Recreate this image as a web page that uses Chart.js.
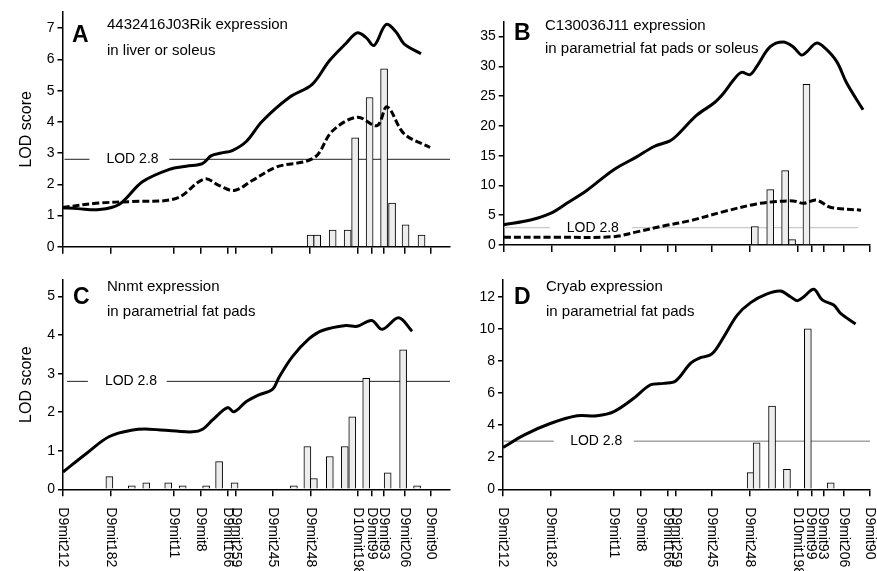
<!DOCTYPE html>
<html>
<head>
<meta charset="utf-8">
<script src="https://cdn.jsdelivr.net/npm/chart.js@4.4.0/dist/chart.umd.min.js"></script>
<style>
  body { margin: 0; background: #fff; }
  #wrap { position: relative; width: 877px; height: 571px; overflow: hidden; }
  canvas { position: absolute; }
</style>
</head>
<body>
<div id="wrap">
  <canvas id="chartA" width="455" height="262" style="left:0;top:0"></canvas>
  <canvas id="chartB" width="422" height="262" style="left:455px;top:0"></canvas>
  <canvas id="chartC" width="455" height="309" style="left:0;top:262px"></canvas>
  <canvas id="chartD" width="422" height="309" style="left:455px;top:262px"></canvas>
</div>
<script>
// markers along chromosome 9 (map position, cM)
const markers = ['D9mit212', 'D9mit182', 'D9mit11', 'D9mit8', 'D9mit166', 'D9mit259', 'D9mit245',
  'D9mit248', 'D10mit198', 'D9mit99', 'D9mit93', 'D9mit206', 'D9mit90'];
const markerPos = [0, 9.6, 22.3, 27.7, 33.1, 34.7, 42, 49.6, 59.2, 62, 64.4, 68.5, 73.7];

// A: 4432416J03Rik
const aSolid = [[0, 1.25], [3, 1.22], [7.4, 1.19], [11.4, 1.36], [16, 2.08], [21.4, 2.48], [24.8, 2.58],
  [28, 2.66], [29.8, 2.92], [31.8, 3.0], [34, 3.08], [36.8, 3.37], [40, 4.02], [45.4, 4.78], [50, 5.2],
  [53.4, 5.95], [56.8, 6.52], [59, 6.85], [60.8, 6.7], [62.4, 6.45], [64.8, 7.12], [66.8, 6.88],
  [68.4, 6.5], [71.8, 6.18]];
const aDashed = [[0, 1.26], [7.4, 1.4], [14, 1.45], [22.8, 1.55], [28.4, 2.17], [31.4, 1.96],
  [34.4, 1.8], [38, 2.12], [42.8, 2.55], [50.4, 2.85], [54, 3.7], [59, 4.15], [63, 3.88], [65, 4.48],
  [68.4, 3.62], [73.6, 3.18]];
const aBars = [[49.7, 0.37], [51, 0.37], [54.1, 0.53], [57.1, 0.53], [58.6, 3.49], [61.5, 4.78],
  [64.4, 5.7], [66, 1.4], [68.7, 0.7], [71.9, 0.37]];

// B: C130036J11
const bSolid = [[0, 3.4], [5.4, 4.2], [9.4, 5.3], [12.7, 7.0], [16.8, 9.2], [22.1, 12.6], [26.8, 14.8],
  [30.2, 16.5], [33.5, 17.5], [34.9, 18.4], [38.9, 21.8], [42.3, 23.8], [44.3, 25.5], [46.3, 27.7],
  [47.9, 29.0], [49.6, 28.6], [51, 30.0], [53.7, 33.3], [56.3, 34.1], [58.3, 33.3], [60, 31.9],
  [61, 32.4], [63, 33.9], [64.7, 33.1], [67.1, 30.8], [69.1, 27.2], [72.4, 22.7]];
const bDashed = [[0, 1.3], [10, 1.3], [22.1, 1.4], [26.8, 2.2], [32.2, 3.2], [37.6, 4.1], [44.3, 5.6],
  [50.9, 6.9], [54.3, 7.25], [58.3, 7.4], [60.4, 7.0], [63, 7.55], [65.8, 6.35], [72, 5.85]];
const bBars = [[50.6, 3.1], [53.7, 9.3], [56.7, 12.5], [58.1, 0.9], [61, 27]];

// C: Nnmt
const cSolid = [[0, 0.45], [4.7, 0.93], [9.3, 1.37], [14, 1.54], [17.3, 1.56], [22.7, 1.51], [26, 1.49],
  [28, 1.56], [30, 1.8], [33, 2.12], [34.3, 2.01], [36.7, 2.27], [39.3, 2.45], [42, 2.59], [43.3, 2.9],
  [46, 3.44], [49.3, 3.9], [52, 4.12], [56.7, 4.25], [59, 4.23], [61.9, 4.38], [64, 4.15], [67.3, 4.45],
  [70, 4.1]];
const cBars = [[9.3, 0.33], [13.8, 0.09], [16.7, 0.17], [21.1, 0.17], [24, 0.09], [28.7, 0.09],
  [31.3, 0.72], [34.4, 0.17], [46.3, 0.09], [49, 1.11], [50.3, 0.28], [53.5, 0.85], [56.5, 1.11],
  [58, 1.88], [60.8, 2.88], [65.1, 0.43], [68.2, 3.62], [71, 0.09]];

// D: Cryab
const dSolid = [[0, 2.6], [4.2, 3.38], [9.5, 4.1], [14.9, 4.58], [18.9, 4.58], [22.3, 4.84], [26.3, 5.67],
  [29.6, 6.5], [32.3, 6.6], [34.7, 6.75], [37.7, 7.85], [39.7, 8.2], [42, 8.43], [44.4, 9.5],
  [47.1, 10.85], [49.8, 11.63], [53.1, 12.17], [55.8, 12.35], [57.8, 12.0], [59.2, 11.75], [60.5, 12.0],
  [62.5, 12.46], [64.2, 11.8], [66.5, 11.48], [67.9, 10.96], [70.9, 10.3]];
const dBars = [[49.8, 1.04], [51, 2.9], [54.1, 5.19], [57.1, 1.25], [61.3, 10], [65.9, 0.41]];

// threshold line pieces (gap left for the label)
const lodA = [[0.4, 2.8], [5.4, 2.8], [13, null], [21.4, 2.8], [77.6, 2.8]];
const lodB = [[0, 2.9], [9.3, 2.9], [17, null], [25.8, 2.9], [71.4, 2.9]];
const lodC = [[0.8, 2.8], [5, 2.8], [13, null], [20.8, 2.8], [77.6, 2.8]];
const lodD = [[0, 3], [10.2, 3], [18, null], [26.3, 3], [73.8, 3]];

const yTicksA = [0, 1, 2, 3, 4, 5, 6, 7];
const yTicksB = [0, 5, 10, 15, 20, 25, 30, 35];
const yTicksC = [0, 1, 2, 3, 4, 5];
const yTicksD = [0, 2, 4, 6, 8, 10, 12];

const FONT = '"Liberation Sans", Arial, Helvetica, sans-serif';
Chart.defaults.font.family = FONT;
Chart.defaults.color = '#000';

const pts = arr => arr.map(p => ({ x: p[0], y: p[1] }));

const panelText = {
  id: 'panelText',
  afterDraw(chart, args, opts) {
    const ctx = chart.ctx;
    const { x, y } = chart.scales;
    ctx.save();
    ctx.fillStyle = '#000';
    ctx.font = 'bold 23px ' + FONT;
    ctx.textBaseline = 'alphabetic';
    ctx.fillText(opts.letter, opts.letterX, opts.letterY);
    ctx.font = '15px ' + FONT;
    ctx.fillText(opts.line1, opts.textX, opts.line1Y);
    ctx.fillText(opts.line2, opts.textX, opts.line2Y);
    // threshold label
    ctx.font = '14px ' + FONT;
    ctx.textBaseline = 'middle';
    ctx.fillText('LOD 2.8', x.getPixelForValue(opts.lodLabelX), y.getPixelForValue(opts.lodY));
    // marker names under the bottom panels
    if (opts.markerLabels) {
      ctx.font = '14px ' + FONT;
      ctx.textAlign = 'left';
      markers.forEach((m, i) => {
        const px = x.getPixelForValue(markerPos[i]);
        ctx.save();
        ctx.translate(px, x.top + 18);
        ctx.rotate(Math.PI / 2);
        ctx.fillText(m, 0, 0);
        ctx.restore();
      });
    }
    ctx.restore();
  }
};

function makePanel(id, cfg) {
  const datasets = [];
  datasets.push({
    type: 'line', data: pts(cfg.solid), borderColor: '#000', borderWidth: 3,
    pointRadius: 0, tension: 0.35, fill: false, order: 0
  });
  if (cfg.dashed) {
    datasets.push({
      type: 'line', data: pts(cfg.dashed), borderColor: '#000', borderWidth: 3, borderDash: [7, 3],
      pointRadius: 0, tension: 0.35, fill: false, order: 1
    });
  }
  datasets.push({
    type: 'bar', data: pts(cfg.bars), backgroundColor: '#ededed', borderColor: '#000',
    borderWidth: 1, barThickness: 7, order: 2
  });
  datasets.push({
    type: 'line', data: pts(cfg.lod), borderColor: cfg.lodColor, borderWidth: 1,
    pointRadius: 0, spanGaps: false, fill: false, order: 3
  });

  new Chart(document.getElementById(id), {
    type: 'bar',
    data: { datasets },
    options: {
      responsive: false,
      animation: false,
      events: [],
      layout: { padding: { top: cfg.padTop, right: cfg.padRight, left: 0, bottom: 0 } },
      plugins: {
        legend: { display: false },
        tooltip: { enabled: false },
        panelText: cfg.text
      },
      scales: {
        x: {
          type: 'linear', min: 0, max: cfg.xMax, offset: false,
          afterBuildTicks: s => { s.ticks = markerPos.map(v => ({ value: v })); },
          afterFit: s => { s.height = cfg.xHeight; },
          ticks: { display: false },
          grid: { drawOnChartArea: false, drawTicks: true, tickLength: 7, color: '#000', lineWidth: 1.5, offset: false },
          border: { color: '#000', width: 1.5 }
        },
        y: {
          min: 0, max: cfg.yMax,
          afterBuildTicks: s => { s.ticks = cfg.yTicks.map(v => ({ value: v })); },
          afterFit: s => { s.width = cfg.yWidth; },
          ticks: { font: { size: 14 }, color: '#000', padding: 3 },
          grid: { drawOnChartArea: false, drawTicks: true, tickLength: 5, color: '#000', lineWidth: 1.5 },
          border: { color: '#000', width: 1.5 },
          title: {
            display: cfg.yTitle, text: 'LOD score', color: '#000',
            font: { size: 16 }, padding: { top: 17, bottom: 0 }
          }
        }
      }
    },
    plugins: [panelText]
  });
}

makePanel('chartA', {
  solid: aSolid, dashed: aDashed, bars: aBars, lod: lodA, lodColor: '#222',
  xMax: 77.6, yMax: 7.52, yTicks: yTicksA, yWidth: 62.5, yTitle: true,
  padTop: 12, padRight: 5, xHeight: 15.3,
  text: { letter: 'A', letterX: 72, letterY: 42, textX: 107, line1: '4432416J03Rik expression', line1Y: 29,
    line2: 'in liver or soleus', line2Y: 55, lodLabelX: 8.8, lodY: 2.8, markerLabels: false }
});

makePanel('chartB', {
  solid: bSolid, dashed: bDashed, bars: bBars, lod: lodB, lodColor: '#bbb',
  xMax: 73.8, yMax: 37.5, yTicks: yTicksB, yWidth: 48.7, yTitle: false,
  padTop: 21.7, padRight: 7, xHeight: 17,
  text: { letter: 'B', letterX: 59, letterY: 40, textX: 90, line1: 'C130036J11 expression', line1Y: 30,
    line2: 'in parametrial fat pads or soleus', line2Y: 53, lodLabelX: 12.7, lodY: 2.9, markerLabels: false }
});

makePanel('chartC', {
  solid: cSolid, bars: cBars, lod: lodC, lodColor: '#222',
  xMax: 77.6, yMax: 5.43, yTicks: yTicksC, yWidth: 63, yTitle: true,
  padTop: 18, padRight: 5, xHeight: 81.7,
  text: { letter: 'C', letterX: 73, letterY: 42, textX: 107, line1: 'Nnmt expression', line1Y: 29,
    line2: 'in parametrial fat pads', line2Y: 54, lodLabelX: 8.4, lodY: 2.8, markerLabels: true }
});

makePanel('chartD', {
  solid: dSolid, bars: dBars, lod: lodD, lodColor: '#777',
  xMax: 73.8, yMax: 13.04, yTicks: yTicksD, yWidth: 48, yTitle: false,
  padTop: 18, padRight: 7, xHeight: 81.7,
  text: { letter: 'D', letterX: 59, letterY: 42, textX: 91, line1: 'Cryab expression', line1Y: 29,
    line2: 'in parametrial fat pads', line2Y: 54, lodLabelX: 13.5, lodY: 3, markerLabels: true }
});
</script>
</body>
</html>
